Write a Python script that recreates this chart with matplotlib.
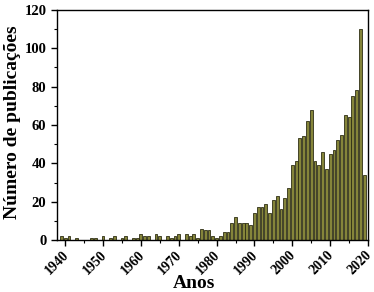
import numpy as np
from matplotlib import pyplot as plt
from matplotlib.ticker import MultipleLocator
from matplotlib.transforms import ScaledTranslation

# publicações por ano
anos = list(range(1939, 2020))
publicacoes = [2, 1, 2, 0, 1, 0, 0, 0, 1, 1,   # 1939-1948
               0, 2, 0, 1, 2, 0, 1, 2, 0, 1,   # 1949-1958
               1, 3, 2, 2, 0, 3, 2, 0, 2, 1,   # 1959-1968
               2, 3, 0, 3, 2, 3, 1, 6, 5, 5,   # 1969-1978
               2, 1, 2, 4, 4, 9, 12, 9, 9, 9,  # 1979-1988
               8, 14, 17, 17, 19, 14, 21, 23, 16, 22,  # 1989-1998
               27, 39, 41, 53, 54, 62, 68, 41, 39, 46,  # 1999-2008
               37, 45, 47, 52, 55, 65, 64, 75, 78, 110,  # 2009-2018
               34]                                       # 2019

plt.rcParams['font.family'] = ['Liberation Serif', 'DejaVu Serif']
plt.rcParams['font.weight'] = 'bold'

fig = plt.figure(figsize=(3.74, 2.92), dpi=100)
ax = fig.add_axes([0.152, 0.178, 0.832, 0.788])

ax.bar(anos, publicacoes, width=0.75, color='#85853a', edgecolor='#2e2e14', linewidth=0.6)

ax.set_xlim(1937.8, 2020)
ax.set_ylim(0, 120)
ax.xaxis.set_major_locator(MultipleLocator(10))
ax.xaxis.set_minor_locator(MultipleLocator(5))
ax.yaxis.set_major_locator(MultipleLocator(20))
ax.yaxis.set_minor_locator(MultipleLocator(10))
ax.tick_params(which='major', direction='out', length=4, width=1, labelsize=10.5)
ax.tick_params(which='minor', direction='out', length=2, width=0.8)
ax.tick_params(axis='x', pad=2, labelsize=10)
# desloca os rótulos do eixo x um pouco para a esquerda
desloc = ScaledTranslation(-0.03, 0, fig.dpi_scale_trans)
for lab in ax.get_xticklabels():
    lab.set_rotation(45)
    lab.set_ha('right')
    lab.set_rotation_mode('anchor')
    lab.set_fontweight('bold')
    lab.set_transform(lab.get_transform() + desloc)
for lab in ax.get_yticklabels():
    lab.set_fontweight('bold')

for s in ax.spines.values():
    s.set_linewidth(1)

ax.set_xlabel("Anos", fontsize=14, fontweight='bold')
ax.xaxis.set_label_coords(0.44, -0.15)
ax.set_ylabel("Número de publicações", fontsize=14, fontweight='bold')
ax.yaxis.set_label_coords(-0.115, 0.51)

fig.savefig("out.png", dpi=100)
